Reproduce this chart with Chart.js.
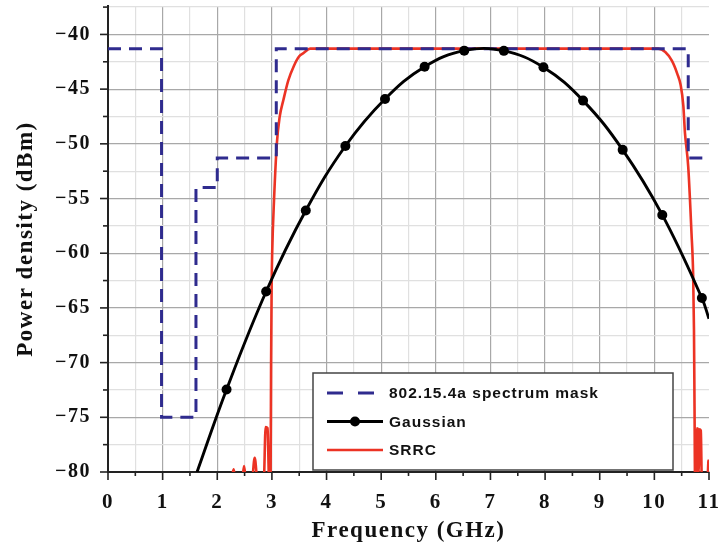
<!DOCTYPE html>
<html><head><meta charset="utf-8">
<script src="https://cdn.jsdelivr.net/npm/chart.js@4.4.1/dist/chart.umd.min.js"></script>
<style>html,body{margin:0;padding:0;background:#fff;overflow:hidden;}canvas{display:block;}</style>
</head><body>
<canvas id="c" width="721" height="552" style="width:721px;height:552px"></canvas>
<script>
// ---- data ----
const freqTickLabels = [0,1,2,3,4,5,6,7,8,9,10,11];
const powerTickLabels = [-80,-75,-70,-65,-60,-55,-50,-45,-40];
const seriesNames = ['802.15.4a spectrum mask','Gaussian','SRRC'];

const maskX = [0, 0.98, 0.98, 1.61, 1.61, 2.0, 2.0, 3.08, 3.08, 10.62, 10.62, 11];
const maskY = [-41.3, -41.3, -75, -75, -54, -54, -51.3, -51.3, -41.3, -41.3, -51.3, -51.3];

const gaussX = [1.63, 2.17, 2.895, 3.62, 4.345, 5.07, 5.795, 6.52, 7.245, 7.97, 8.695, 9.42, 10.145, 10.87, 11.0];
const gaussY = [-80, -72.45, -63.5, -56.1, -50.2, -45.9, -42.95, -41.48, -41.5, -43.0, -46.05, -50.55, -56.5, -64.1, -66.0];
const gaussMarked = [false,true,true,true,true,true,true,true,true,true,true,true,true,true,false];

const srrcX = [2.25, 2.30, 2.34, 2.45, 2.49, 2.53, 2.63, 2.685, 2.74, 2.85, 2.885, 2.92, 2.95, 2.975,
  2.985, 2.995, 3.005, 3.04, 3.09, 3.14, 3.21, 3.30, 3.40, 3.50, 3.58, 3.70,
  10.07, 10.2, 10.32, 10.42, 10.48, 10.53, 10.56, 10.62, 10.68, 10.71, 10.725, 10.735, 10.745,
  10.77, 10.78, 10.80, 10.81, 10.825, 10.85, 10.87, 10.89, 10.97, 10.99, 11.0];
const srrcY = [-81, -79.75, -81, -81, -79.45, -81, -81, -78.7, -81, -81, -75.9, -76.0, -81, -81,
  -70, -63, -60, -55, -50, -47.6, -46, -44.2, -42.9, -42.0, -41.7, -41.3,
  -41.3, -41.6, -42.4, -43.6, -44.6, -46.5, -49, -52.1, -58.2, -62, -67, -74, -81,
  -81, -76, -76.1, -80, -76.1, -76.2, -81, -81, -81, -79, -78.9];

const pts = (xs, ys) => xs.map((x, i) => ({x, y: ys[i]}));

const MASK_COLOR = '#2f2b8e', GAUSS_COLOR = '#000000', SRRC_COLOR = '#ec3324';
const SERIF = "'Liberation Serif', 'Times New Roman', serif";
const SANS = "'Liberation Sans', Arial, sans-serif";

const spacingPlugin = {
  id: 'spacing',
  beforeLayout(chart) { chart.ctx.letterSpacing = '1.5px'; },
  beforeDraw(chart) { chart.ctx.letterSpacing = '1.5px'; }
};

const tickPlugin = {
  id: 'minorTicks',
  afterDraw(chart) {
    const ctx = chart.ctx, xs = chart.scales.x, ys = chart.scales.y, a = chart.chartArea;
    ctx.save();
    ctx.strokeStyle = '#222'; ctx.lineWidth = 1.6;
    xs.ticks.forEach(t => {
      const px = xs.getPixelForValue(t.value);
      const major = Math.abs(t.value - Math.round(t.value)) < 1e-6;
      ctx.beginPath(); ctx.moveTo(px, a.bottom); ctx.lineTo(px, a.bottom + (major ? 8 : 4)); ctx.stroke();
    });
    ys.ticks.forEach(t => {
      const py = ys.getPixelForValue(t.value);
      const major = Math.abs(t.value / 5 - Math.round(t.value / 5)) < 1e-6;
      ctx.beginPath(); ctx.moveTo(a.left, py); ctx.lineTo(a.left - (major ? 8 : 5), py); ctx.stroke();
    });
    ctx.restore();
  }
};

const legendPlugin = {
  id: 'boxLegend',
  afterDatasetsDraw(chart) {
    const ctx = chart.ctx;
    const L = 313, T = 373, W = 360, H = 97;
    const rows = [393, 421.5, 450];
    const sx0 = 327, sx1 = 383, tx = 389;
    ctx.save();
    ctx.fillStyle = '#fff'; ctx.fillRect(L, T, W, H);
    ctx.strokeStyle = '#444'; ctx.lineWidth = 1.5; ctx.strokeRect(L, T, W, H);
    seriesNames.forEach((name, i) => {
      const ds = chart.data.datasets.find(d => d.label === name);
      const y = rows[i];
      const dashed = ds.borderDash && ds.borderDash.length;
      ctx.save();
      ctx.strokeStyle = ds.borderColor; ctx.lineWidth = ds.borderWidth;
      if (dashed) ctx.setLineDash([16, 15]);
      ctx.beginPath(); ctx.moveTo(sx0, y); ctx.lineTo(dashed ? 374 : sx1, y); ctx.stroke();
      ctx.restore();
      if (name === seriesNames[1]) {
        ctx.fillStyle = ds.borderColor; ctx.beginPath(); ctx.arc((sx0 + sx1) / 2, y, 5, 0, Math.PI * 2); ctx.fill();
      }
      ctx.letterSpacing = '1px';
      ctx.fillStyle = '#111'; ctx.font = "bold 15.5px " + SANS; ctx.textBaseline = 'middle'; ctx.textAlign = 'left';
      ctx.fillText(name, tx, y + 1);
    });
    ctx.restore();
  }
};

new Chart(document.getElementById('c'), {
  type: 'line',
  data: {
    datasets: [
      { label: seriesNames[1], data: pts(gaussX, gaussY), borderColor: GAUSS_COLOR, backgroundColor: GAUSS_COLOR,
        borderWidth: 2.9, tension: 0.4, pointRadius: gaussMarked.map(m => m ? 5 : 0), pointBorderWidth: 0,
        pointBackgroundColor: GAUSS_COLOR, order: 0 },
      { label: seriesNames[0], data: pts(maskX, maskY), borderColor: MASK_COLOR, borderWidth: 3,
        borderDash: [13, 8], pointRadius: 0, tension: 0, order: 1 },
      { label: seriesNames[2], data: pts(srrcX, srrcY), borderColor: SRRC_COLOR, borderWidth: 2.6,
        pointRadius: 0, cubicInterpolationMode: 'monotone', order: 2 }
    ]
  },
  options: {
    responsive: false, animation: false, devicePixelRatio: 1,
    layout: { padding: { left: 0, right: 12, top: 6, bottom: 0 } },
    plugins: { legend: { display: false }, tooltip: { enabled: false } },
    scales: {
      x: {
        type: 'linear', min: 0, max: 11,
        afterFit: s => { s.height = 80; s.paddingLeft = 0; s.paddingRight = 0; },
        border: { color: '#222', width: 2 },
        grid: {
          color: c => (c.tick && c.tick.value >= 11) ? 'rgba(0,0,0,0)' :
            (Math.abs(c.tick.value - Math.round(c.tick.value)) < 1e-6 ? '#a8a8a8' : '#e0e0e0'),
          lineWidth: 1.2, tickLength: 8, tickColor: 'rgba(0,0,0,0)'
        },
        ticks: {
          stepSize: 0.5, autoSkip: false, maxRotation: 0, padding: 10, color: '#111',
          font: { family: SERIF, size: 21, weight: 'bold' },
          callback: v => freqTickLabels.includes(v) ? String(v) : ''
        },
        title: { display: true, text: 'Frequency (GHz)', color: '#111',
          font: { family: SERIF, size: 23, weight: 'bold' }, padding: { top: 0, bottom: 7 } }
      },
      y: {
        type: 'linear', min: -80, max: -37.4,
        afterFit: s => { s.width = 108; s.paddingTop = 0; s.paddingBottom = 0; },
        border: { color: '#222', width: 2 },
        grid: {
          color: c => (Math.abs(c.tick.value / 5 - Math.round(c.tick.value / 5)) < 1e-6 ? '#a8a8a8' : '#e0e0e0'),
          lineWidth: 1.2, tickLength: 8, tickColor: 'rgba(0,0,0,0)'
        },
        ticks: {
          stepSize: 2.5, includeBounds: false, autoSkip: false, padding: 9, color: '#111',
          font: { family: SERIF, size: 20, weight: 'bold' },
          callback: v => powerTickLabels.includes(v) ? '\u2212' + Math.abs(v) : ''
        },
        title: { display: true, text: 'Power density (dBm)', color: '#111',
          font: { family: SERIF, size: 23, weight: 'bold' }, padding: { top: 12, bottom: 0 } }
      }
    }
  },
  plugins: [spacingPlugin, legendPlugin, tickPlugin]
});
</script>
</body></html>
